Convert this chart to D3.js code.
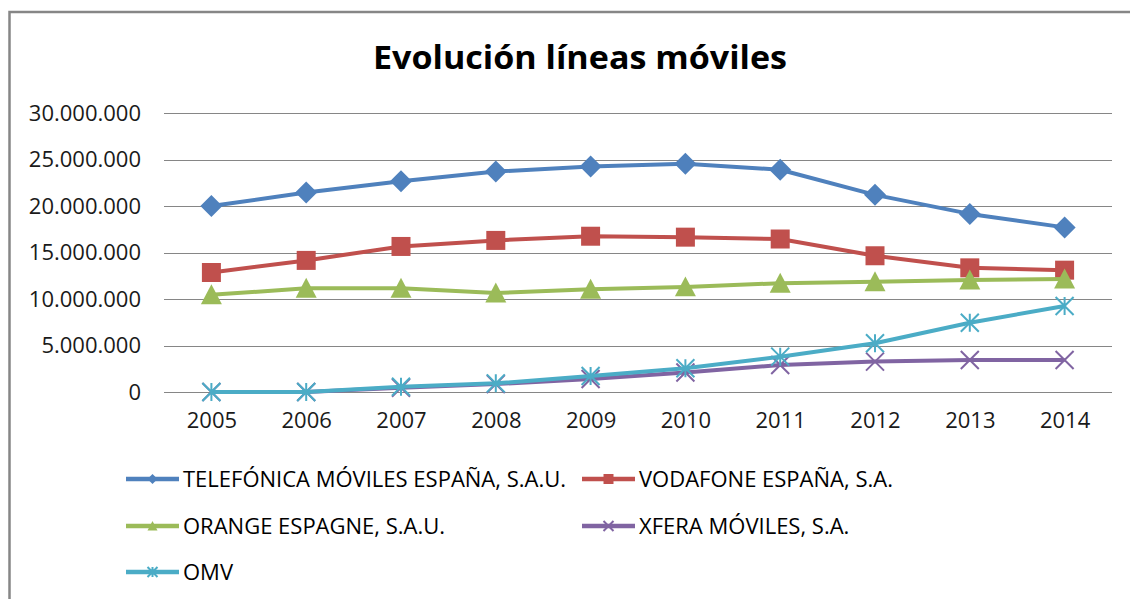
<!DOCTYPE html>
<html>
<head>
<meta charset="utf-8">
<script src="https://cdn.jsdelivr.net/npm/d3@7"></script>
<style>
  body { margin: 0; background: #fff; }
  svg { display: block; font-family: "Open Sans", sans-serif; }
</style>
</head>
<body>
<svg id="chart" width="1130" height="599"></svg>
<script>
const years = ["2005","2006","2007","2008","2009","2010","2011","2012","2013","2014"];
const yTicks = [0, 5000000, 10000000, 15000000, 20000000, 25000000, 30000000];

const telefonica = [20000000, 21450000, 22650000, 23700000, 24250000, 24550000, 23900000, 21200000, 19150000, 17700000];
const vodafone   = [12850000, 14150000, 15650000, 16300000, 16750000, 16650000, 16450000, 14650000, 13350000, 13100000];
const orange     = [10450000, 11150000, 11150000, 10650000, 11050000, 11300000, 11700000, 11850000, 12050000, 12150000];
const xfera      = [0, 0, 450000, 850000, 1400000, 2100000, 2900000, 3270000, 3440000, 3440000];
const omv        = [0, 0, 570000, 930000, 1720000, 2550000, 3800000, 5250000, 7450000, 9250000];

const seriesNames = ["TELEFÓNICA MÓVILES ESPAÑA, S.A.U.", "VODAFONE ESPAÑA, S.A.", "ORANGE ESPAGNE, S.A.U.", "XFERA MÓVILES, S.A.", "OMV"];
const seriesValues = [telefonica, vodafone, orange, xfera, omv];
const colors = ["#4F81BD", "#C0504D", "#9BBB59", "#8064A2", "#4BACC6"];
const markers = ["diamond", "square", "triangle", "x", "star"];

const svg = d3.select("#chart");

// frame: only the left and top edges fall inside the window
svg.append("path")
  .attr("d", "M9.5,700V12H1200")
  .attr("fill", "none").attr("stroke", "#868686").attr("stroke-width", 2.5);

svg.append("text")
  .attr("x", 580).attr("y", 69)
  .attr("text-anchor", "middle")
  .attr("font-size", 32).attr("font-weight", "bold")
  .attr("fill", "#000")
  .attr("textLength", 414).attr("lengthAdjust", "spacingAndGlyphs")
  .text("Evolución líneas móviles");

const x = d3.scalePoint().domain(years).range([164, 1112]).padding(0.5);
const y = d3.scaleLinear().domain([0, 30000000]).range([392, 113]);

const es = d3.formatLocale({decimal: ",", thousands: ".", grouping: [3], currency: ["", "€"]});
const fmt = es.format(",");

// gridlines
svg.append("g").selectAll("line")
  .data(yTicks)
  .join("line")
  .attr("x1", 164).attr("x2", 1112)
  .attr("y1", d => Math.round(y(d)) + 0.5)
  .attr("y2", d => Math.round(y(d)) + 0.5)
  .attr("stroke", "#868686").attr("stroke-width", 1.2);

// y labels
const yAxis = svg.append("g")
  .attr("transform", "translate(164,0)")
  .call(d3.axisLeft(y).tickValues(yTicks).tickFormat(fmt).tickSize(0).tickPadding(23));
yAxis.select(".domain").remove();
yAxis.selectAll("text").attr("font-size", 22).attr("fill", "#1a1a1a").attr("font-family", "Open Sans");

// x labels
const xAxis = svg.append("g")
  .attr("transform", "translate(0,392)")
  .call(d3.axisBottom(x).tickSize(0).tickPadding(20));
xAxis.select(".domain").remove();
xAxis.selectAll("text").attr("font-size", 22).attr("fill", "#1a1a1a").attr("font-family", "Open Sans");

function markerPath(type, r) {
  if (type === "diamond") return `M0,${-r}L${r},0L0,${r}L${-r},0Z`;
  if (type === "square") return `M${-r},${-r}H${r}V${r}H${-r}Z`;
  if (type === "triangle") return `M0,${-r}L${r},${r * 0.9}L${-r},${r * 0.9}Z`;
  if (type === "x") return `M${-r},${-r}L${r},${r}M${-r},${r}L${r},${-r}`;
  return `M${-r},${-r}L${r},${r}M${-r},${r}L${r},${-r}M0,${-r}L0,${r}`;
}
const markerSize = {diamond: 11, square: 9.5, triangle: 10.5, x: 9, star: 9};

function drawMarker(g, type, color, r) {
  const filled = type !== "x" && type !== "star";
  g.append("path")
    .attr("d", markerPath(type, r))
    .attr("fill", filled ? color : "none")
    .attr("stroke", color)
    .attr("stroke-width", filled ? 0 : 2);
}

const line = d3.line().x((d, i) => x(years[i])).y(d => y(d));

seriesValues.forEach((vals, s) => {
  const g = svg.append("g");
  g.append("path")
    .datum(vals)
    .attr("d", line)
    .attr("fill", "none")
    .attr("stroke", colors[s])
    .attr("stroke-width", 4)
    .attr("stroke-linejoin", "round");
  vals.forEach((v, i) => {
    const m = g.append("g").attr("transform", `translate(${x(years[i])},${y(v)})`);
    drawMarker(m, markers[s], colors[s], markerSize[markers[s]]);
  });
});

// legend
const legendPos = [[126, 479], [582, 479], [126, 526], [582, 526], [126, 572]];
seriesNames.forEach((name, s) => {
  const [lx, ly] = legendPos[s];
  const g = svg.append("g").attr("transform", `translate(${lx},${ly})`);
  g.append("line").attr("x1", 0).attr("x2", 53).attr("y1", 0).attr("y2", 0)
    .attr("stroke", colors[s]).attr("stroke-width", 4.5);
  const m = g.append("g").attr("transform", "translate(26.5,0)");
  drawMarker(m, markers[s], colors[s], 5);
  g.append("text")
    .attr("x", 57).attr("y", 8)
    .attr("font-size", 22).attr("fill", "#000")
    .text(name);
});
</script>
</body>
</html>
